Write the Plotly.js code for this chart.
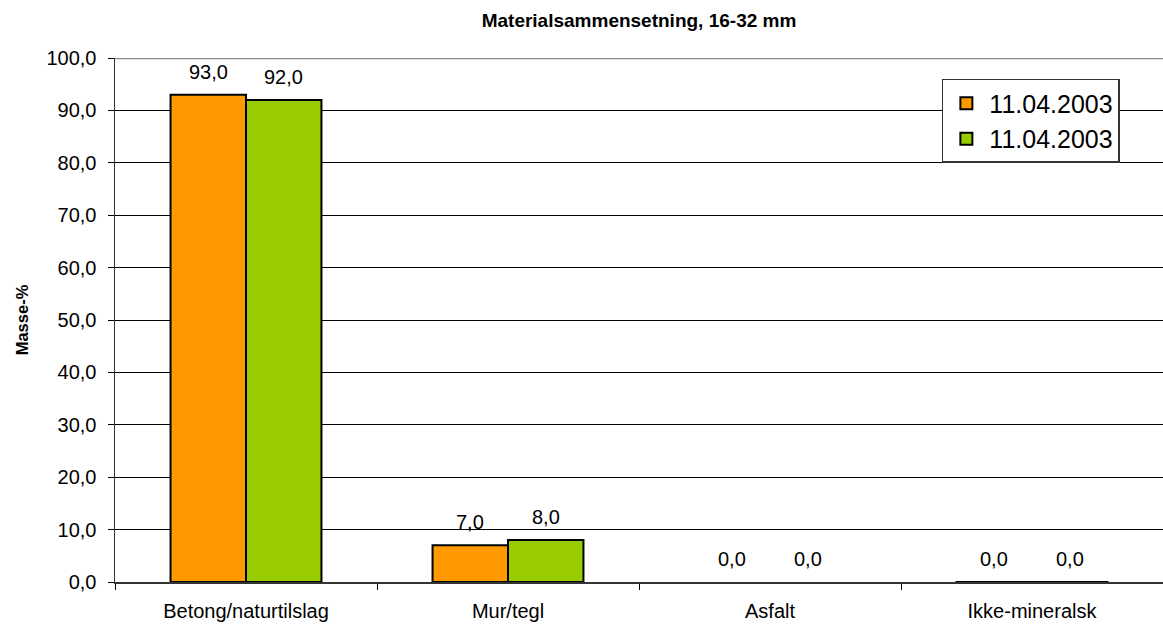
<!DOCTYPE html>
<html>
<head>
<meta charset="utf-8">
<script src="https://cdn.plot.ly/plotly-3.0.1.min.js"></script>
<style>html,body{margin:0;padding:0;background:#fff;}#chart{width:1163px;height:625px;}</style>
</head>
<body>
<div id="chart"></div>
<script>
var categories = ["Betong/naturtilslag", "Mur/tegl", "Asfalt", "Ikke-mineralsk"];
var seriesNames = ["11.04.2003", "11.04.2003"];
var seriesA = [93.0, 7.0, 0.0, 0.02];
var seriesB = [92.0, 8.0, 0.0, 0.02];
var yTicks = [0, 10, 20, 30, 40, 50, 60, 70, 80, 90, 100];

var FONT = '"Liberation Sans", Arial, sans-serif';
var colors = ["#FF9900", "#99CC00"];
var allSeries = [seriesA, seriesB];

var traces = allSeries.map(function (vals, i) {
  return {
    type: 'bar',
    name: seriesNames[i],
    x: categories,
    y: vals,
    legendgroup: 'g' + i,
    marker: {
      color: colors[i],
      line: {color: '#000', width: vals.map(function (v) { return v === 0 ? 0 : 2; })}
    },
    hoverinfo: 'x+y'
  };
});

var bargap = 0.424;
var plotW = 1163 - 115;
var barW = plotW / categories.length * (1 - bargap) / 2;
var annotations = [];
allSeries.forEach(function (vals, s) {
  vals.forEach(function (v, i) {
    annotations.push({
      x: categories[i], y: v, xref: 'x', yref: 'y',
      text: v.toFixed(1).replace('.', ','),
      showarrow: false, yanchor: 'bottom',
      xshift: (s === 0 ? -1 : 1) * barW / 2,
      yshift: 10,
      font: {family: FONT, size: 20, color: '#000'}
    });
  });
});

var layout = {
  width: 1163, height: 625,
  margin: {l: 115, r: 0, t: 58, b: 43, pad: 0},
  paper_bgcolor: '#fff', plot_bgcolor: '#fff',
  separators: ', ',
  barmode: 'group', bargap: bargap, bargroupgap: 0,
  font: {family: FONT, color: '#000'},
  title: {
    text: '<b>Materialsammensetning, 16-32 mm</b>',
    font: {family: FONT, size: 19, color: '#000'},
    x: 0.5, xref: 'paper', y: 0.967, yanchor: 'middle'
  },
  xaxis: {
    type: 'category',
    tickson: 'boundaries',
    ticks: 'outside', ticklen: 6, tickcolor: '#000', tickwidth: 1,
    showline: true, linecolor: '#333', linewidth: 2,
    showgrid: false, zeroline: false,
    tickfont: {family: FONT, size: 20, color: '#000'},
    ticklabelstandoff: 10
  },
  yaxis: {
    range: [0, 100], autorange: false,
    tickvals: yTicks,
    tickformat: '.1f',
    ticks: 'outside', ticklen: 6, tickcolor: '#000', tickwidth: 1,
    showline: true, linecolor: '#333', linewidth: 1.5,
    showgrid: true, gridcolor: '#000', gridwidth: 1,
    zeroline: false,
    tickfont: {family: FONT, size: 20, color: '#000'},
    ticklabelstandoff: 7,
    title: {text: '<b>Masse-%</b>', font: {family: FONT, size: 16.5, color: '#000'}, standoff: 13}
  },
  legend: {
    x: 0.789, y: 0.96, xanchor: 'left', yanchor: 'top',
    bgcolor: '#fff', bordercolor: '#333', borderwidth: 1.5,
    font: {family: FONT, size: 25, color: '#000'},
    tracegroupgap: 6,
    itemwidth: 36,
    traceorder: 'normal'
  },
  shapes: [{
    type: 'line', xref: 'paper', yref: 'y', x0: 0, x1: 1, y0: 100, y1: 100,
    line: {color: '#888', width: 2.5}
  }],
  annotations: annotations,
  showlegend: true
};

Plotly.newPlot('chart', traces, layout, {displayModeBar: false, staticPlot: true});
</script>
</body>
</html>
